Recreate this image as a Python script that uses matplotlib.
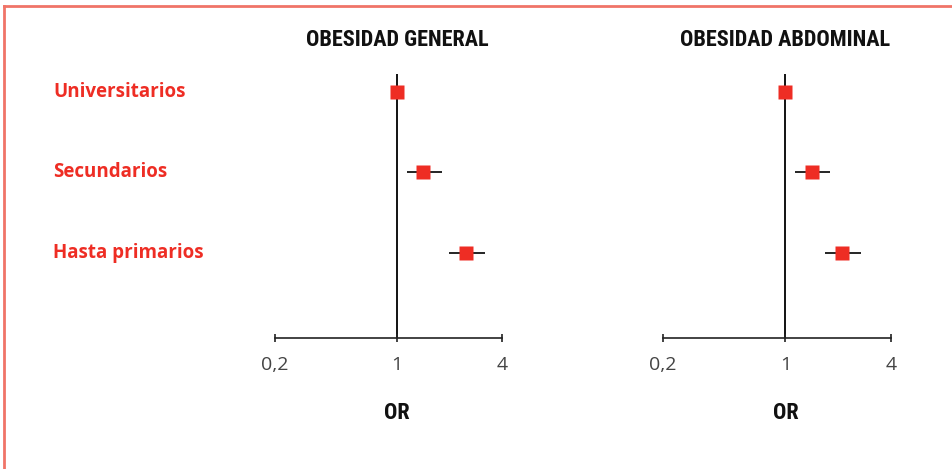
import matplotlib
matplotlib.use("Agg")
import matplotlib.pyplot as plt
import matplotlib.transforms as mtransforms
from matplotlib.lines import Line2D

# odds ratios por nivel de estudios (referencia: universitarios)
categories = ["Universitarios", "Secundarios", "Hasta primarios"]
or_general = [1.0, 1.41, 2.49]
lo_general = [1.0, 1.14, 2.00]
hi_general = [1.0, 1.82, 3.18]
or_abdominal = [1.0, 1.41, 2.09]
lo_abdominal = [1.0, 1.14, 1.69]
hi_abdominal = [1.0, 1.80, 2.69]
panel_titles = ["OBESIDAD GENERAL", "OBESIDAD ABDOMINAL"]
xticks = [0.2, 1, 4]
xtick_labels = ["0,2", "1", "4"]

RED = "#EE2D24"
BORDER = "#F07468"
COND = ["Roboto Condensed", "Roboto", "DejaVu Sans"]

W, H = 953, 469
fig = plt.figure(figsize=(W / 100, H / 100), dpi=100)

# marco
fig.add_artist(Line2D([4 / W, 1], [1 - 6.5 / H] * 2, color=BORDER, lw=2, transform=fig.transFigure))
fig.add_artist(Line2D([4 / W] * 2, [0, 1 - 6.5 / H], color=BORDER, lw=2, transform=fig.transFigure))

bottom, height = 1 - 338 / H, 264 / H
ax1 = fig.add_axes([275 / W, bottom, 227 / W, height])
ax2 = fig.add_axes([663 / W, bottom, 228 / W, height])

rows = list(range(len(categories)))
panels = [(ax1, or_general, lo_general, hi_general), (ax2, or_abdominal, lo_abdominal, hi_abdominal)]

for (ax, est, lo, hi), title in zip(panels, panel_titles):
    ax.set_xscale("log")
    ax.set_xlim(0.2, 4)
    ax.set_ylim(3.06, -0.22)
    ax.axvline(1, color="black", lw=1.3, zorder=1)
    ax.hlines(rows, lo, hi, color="black", lw=1.2, zorder=2)
    ax.plot(est, rows, ls="none", marker="s", ms=9.5, color=RED, mec="none", zorder=3)

    for side in ["top", "right", "left"]:
        ax.spines[side].set_visible(False)
    ax.spines["bottom"].set_color("#222222")
    ax.spines["bottom"].set_linewidth(1.2)
    ax.set_yticks([])
    ax.set_xticks(xticks)
    ax.set_xticklabels(xtick_labels)
    ax.minorticks_off()
    ax.tick_params(axis="x", direction="inout", length=6, width=1.2, color="#222222",
                   pad=10, labelsize=14, labelcolor="#444444")
    for lbl in ax.get_xticklabels():
        lbl.set_family("Open Sans")

    trans = mtransforms.blended_transform_factory(ax.transData, ax.transAxes)
    ax.text(1, 1.13, title, transform=trans, ha="center", va="center",
            family=COND, weight="bold", fontsize=16, color="#111111")
    ax.text(1, -0.285, "OR", transform=trans, ha="center", va="center",
            family=COND, weight="bold", fontsize=16, color="#111111")

# etiquetas de filas
label_trans = mtransforms.blended_transform_factory(fig.transFigure, ax1.transData)
for r, name in zip(rows, categories):
    ax1.text(53 / W, r, name, transform=label_trans, ha="left", va="center",
             family="Open Sans", weight="bold", fontsize=13.5, color=RED)

fig.savefig("out.png", dpi=100)
